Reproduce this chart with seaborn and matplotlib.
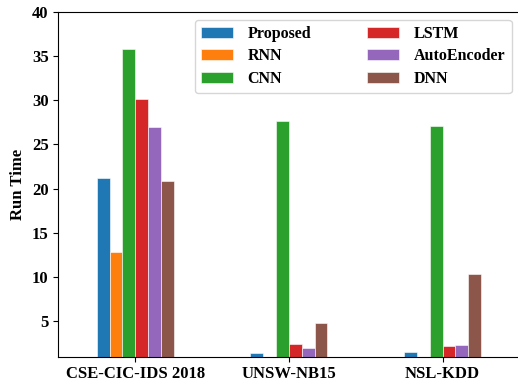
import matplotlib
matplotlib.use("Agg")
import matplotlib.pyplot as plt
import seaborn as sns
import pandas as pd

datasets = ["CSE-CIC-IDS 2018", "UNSW-NB15", "NSL-KDD"]
models = ["Proposed", "RNN", "CNN", "LSTM", "AutoEncoder", "DNN"]
proposed = [21.2, 1.4, 1.48]
rnn = [12.84, 0.6, 0.5]
cnn = [35.76, 27.63, 27.06]
lstm = [30.18, 2.38, 2.16]
autoencoder = [27.02, 2.04, 2.27]
dnn = [20.81, 4.83, 10.36]
yticks = [5, 10, 15, 20, 25, 30, 35, 40]

series = [proposed, rnn, cnn, lstm, autoencoder, dnn]
rows = []
for m, vals in zip(models, series):
    for d, v in zip(datasets, vals):
        rows.append({"Dataset": d, "Model": m, "Run Time": v})
df = pd.DataFrame(rows)

plt.rcParams["font.family"] = ["Liberation Serif", "DejaVu Serif"]
plt.rcParams["font.weight"] = "bold"

fig = plt.figure(figsize=(5.18, 3.81), dpi=100)
ax = fig.add_axes([58.3 / 518, 24.3 / 381, (519.5 - 58.3) / 518, (356.7 - 11.7) / 381])

palette = sns.color_palette("tab10", 6)
sns.barplot(data=df, x="Dataset", y="Run Time", hue="Model", order=datasets,
            hue_order=models, palette=palette, saturation=1, width=0.5,
            gap=0, errorbar=None, edgecolor="white", linewidth=0.4, ax=ax)

ax.set_xlim(-0.5, 2.5)
ax.set_ylim(1, 40)
ax.set_yticks(yticks)
ax.set_xlabel("")
ax.set_ylabel("Run Time", fontsize=12, fontweight="bold")
for lab in ax.get_xticklabels() + ax.get_yticklabels():
    lab.set_fontsize(12)
    lab.set_fontweight("bold")

ax.legend(ncol=2, loc="upper right", prop={"size": 11.5, "weight": "bold"},
          title=None, columnspacing=3.5, handlelength=2.0,
          handletextpad=0.9, labelspacing=0.4)

fig.savefig("out.png", dpi=100)
